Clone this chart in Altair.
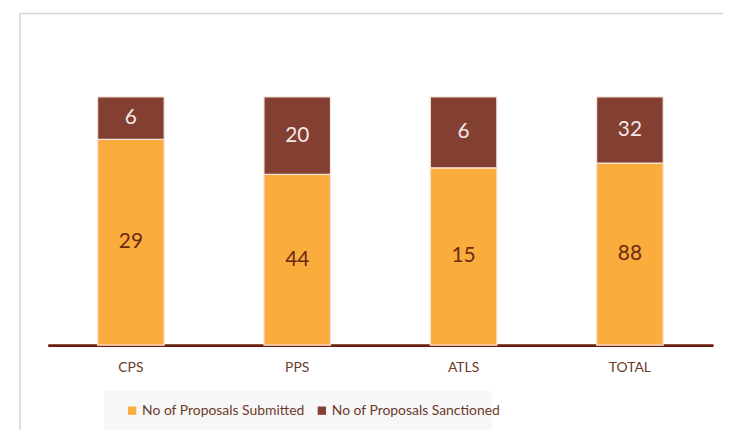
import altair as alt
import pandas as pd

categories = ["CPS", "PPS", "ATLS", "TOTAL"]
submitted = [29, 44, 15, 88]
sanctioned = [6, 20, 6, 32]
series_names = ["No of Proposals Submitted", "No of Proposals Sanctioned"]
series_colors = ["#FAAC3D", "#843F33"]

rows = []
for c, s, n in zip(categories, submitted, sanctioned):
    rows.append({"cat": c, "series": series_names[0], "value": s, "order": 0})
    rows.append({"cat": c, "series": series_names[1], "value": n, "order": 1})
df = pd.DataFrame(rows)

FONT = "Lato"

xenc = alt.X("cat:N", sort=categories, title=None,
             scale=alt.Scale(paddingInner=0.6, paddingOuter=0.3),
             axis=alt.Axis(labelAngle=0, ticks=False, domainColor="#6B1D0E",
                           domainWidth=3, labelColor="#6B3A2A", labelFontSize=14,
                           labelFont=FONT, labelPadding=16))

base = alt.Chart(df).transform_stack(
    stack="value", groupby=["cat"], as_=["y0", "y1"], offset="normalize",
    sort=[alt.SortField("order", order="ascending")]
).transform_calculate(mid="(datum.y0 + datum.y1) / 2")

bars = base.mark_bar(stroke="#F5E4DC", strokeWidth=1.2).encode(
    x=xenc,
    y=alt.Y("y0:Q", scale=alt.Scale(domain=[0, 1], nice=False), axis=None),
    y2="y1:Q",
    color=alt.Color("series:N", sort=series_names,
                    scale=alt.Scale(domain=series_names, range=series_colors),
                    legend=alt.Legend(title=None, orient="none", direction="horizontal",
                                      legendX=78, legendY=309, symbolType="square",
                                      symbolSize=70, symbolStrokeWidth=0,
                                      labelFont=FONT, labelFontSize=14, labelLimit=0,
                                      labelColor="#6B3A2A", columnPadding=10,
                                      labelOffset=3)),
)

labels = base.mark_text(fontSize=21, font=FONT).encode(
    x=alt.X("cat:N", sort=categories),
    y=alt.Y("mid:Q"),
    text="value:Q",
    color=alt.condition("datum.order == 1", alt.value("#F3E8E4"), alt.value("#6B2A14")),
)

legend_bg = alt.Chart(pd.DataFrame({"k": [0]})).mark_rect(fill="#F7F7F7").encode(
    x=alt.value(57), x2=alt.value(447), y=alt.value(296), y2=alt.value(360)
)

frame = alt.Chart(pd.DataFrame({"k": [0]})).mark_rect(
    fill=None, stroke="#D4D4D4", strokeWidth=1.5
).encode(
    x=alt.value(-28), x2=alt.value(760), y=alt.value(-84), y2=alt.value(400)
)

chart = alt.layer(frame, legend_bg, bars, labels).properties(
    width=670, height=250, autosize="none",
    padding={"left": 40, "top": 88, "right": 10, "bottom": 90},
).configure_view(strokeWidth=0, stroke=None)

chart.save("out.html", embed_options={"renderer": "svg", "actions": False})
